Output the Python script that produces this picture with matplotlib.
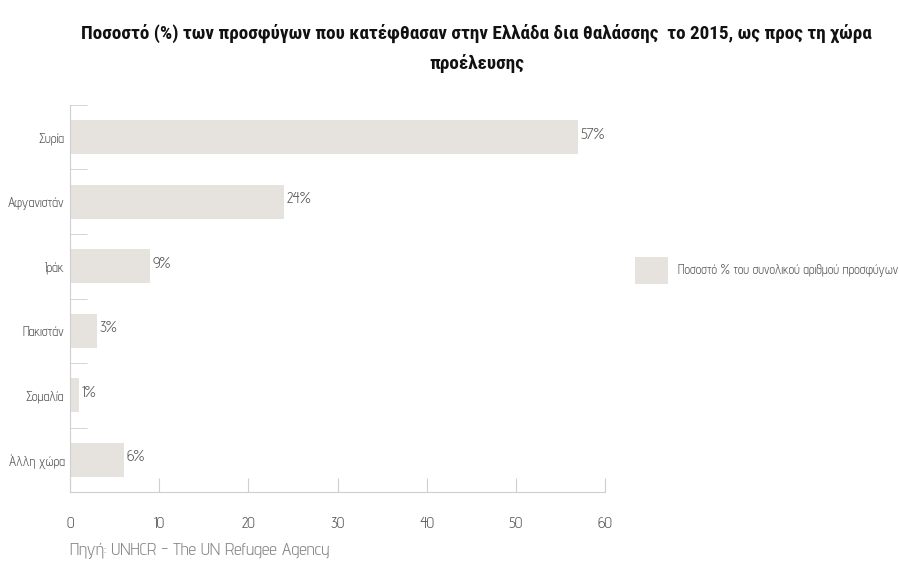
import matplotlib.pyplot as plt

countries = ['Συρία', 'Αφγανιστάν', 'Ιράκ', 'Πακιστάν', 'Σομαλία', 'Άλλη χώρα']
share = [57, 24, 9, 3, 1, 6]
xticks = [0, 10, 20, 30, 40, 50, 60]

title = ('Ποσοστό (%) των προσφύγων που κατέφθασαν στην Ελλάδα δια θαλάσσης  το 2015, ως προς τη χώρα\n'
         'προέλευσης')
series_name = 'Ποσοστό % του συνολικού αριθμού προσφύγων'
source = 'Πηγή: UNHCR - The UN Refugee Agency'

plt.rcParams['font.family'] = ['Advent Pro', 'DejaVu Sans']
title_fonts = ['Roboto Condensed', 'Fira Sans Condensed', 'Encode Sans Condensed', 'DejaVu Sans']

bar_col = '#e6e2de'
txt_col = '#5a5a5a'
axis_col = '#cfcfcf'

fig = plt.figure(figsize=(8.99, 5.67), dpi=100)
ax = fig.add_axes([0.078, 0.132, 0.595, 0.683])

ypos = list(range(len(countries)))
ax.barh(ypos, share, height=0.53, color=bar_col, label=series_name)
for y, v in zip(ypos, share):
    ax.text(v + 0.3, y - 0.04, f'{v}%', va='center', ha='left',
            fontsize=11, color=txt_col)

ax.set_ylim(len(countries) - 0.5, -0.5)
ax.set_xlim(0, 60)
ax.set_xticks(xticks)
ax.set_xticklabels([str(t) for t in xticks])
ax.set_yticks(ypos)
ax.set_yticklabels(countries)
ax.tick_params(axis='y', length=0, pad=4, labelsize=9.5, labelcolor=txt_col)
ax.tick_params(axis='x', direction='in', length=10, color=axis_col,
               pad=18, labelsize=11, labelcolor=txt_col)
# short ticks between categories on the y axis
ax.set_yticks([i - 0.5 for i in range(len(countries) + 1)], minor=True)
ax.tick_params(axis='y', which='minor', direction='in', length=12, color=axis_col)

for s in ['top', 'right']:
    ax.spines[s].set_visible(False)
for s in ['left', 'bottom']:
    ax.spines[s].set_color(axis_col)

fig.text(0.53, 0.915, title, ha='center', va='center', fontsize=13.8,
         fontweight='bold', family=title_fonts, color='#111111', linespacing=1.75)

fig.legend(loc='center left', bbox_to_anchor=(0.693, 0.523), frameon=False,
           fontsize=9.2, handlelength=2.6, handleheight=2.9, handletextpad=0.8,
           labelcolor=txt_col)

fig.text(0.078, 0.028, source, ha='left', va='center', fontsize=12.8, color='#8a8a8a')

fig.savefig('out.png', dpi=100)
